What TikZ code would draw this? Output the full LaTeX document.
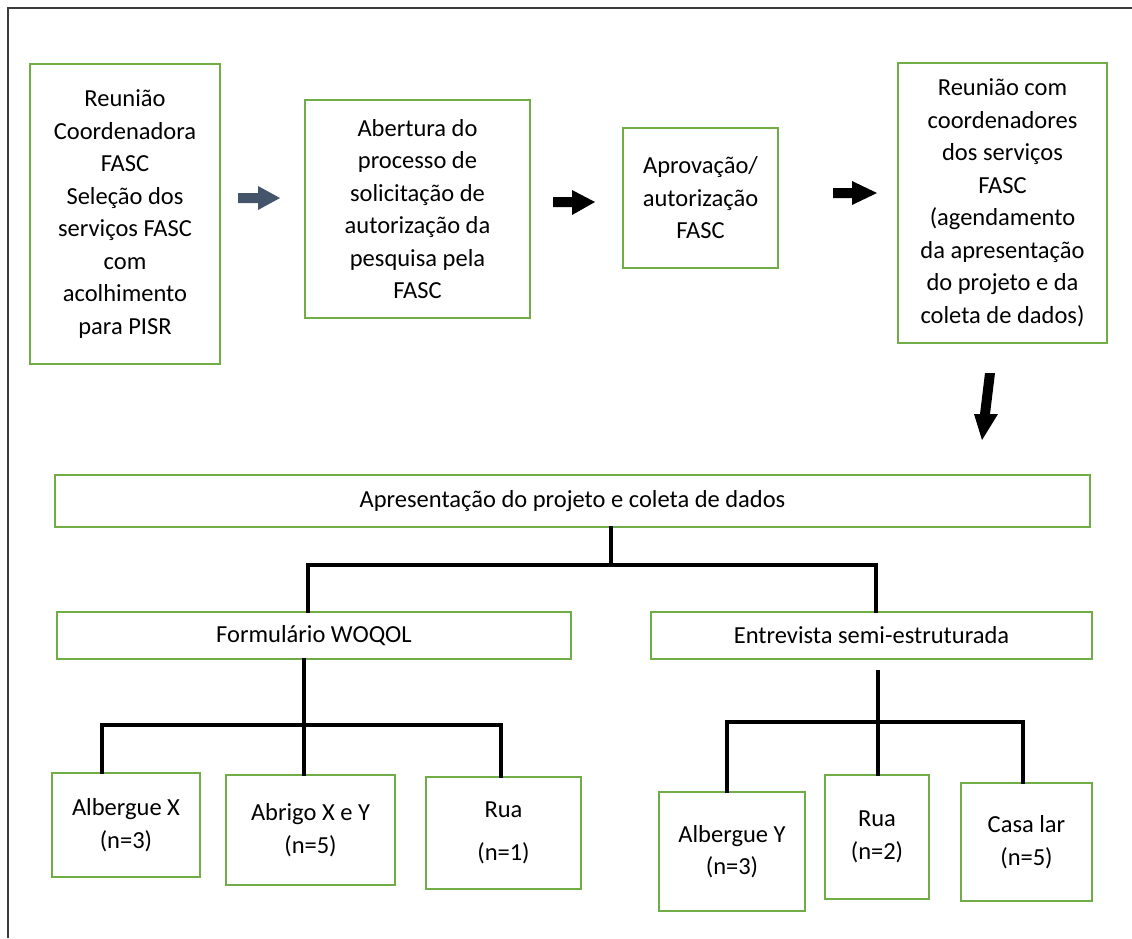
\documentclass[tikz,border=0pt]{standalone}
\usepackage{fontspec}
\setmainfont{Carlito}
\definecolor{boxgreen}{RGB}{112,173,71}
\definecolor{arrowslate}{RGB}{68,84,106}
\definecolor{framegray}{RGB}{60,60,60}
\begin{document}
\begin{tikzpicture}[x=1pt,y=-1pt,
  box/.style={draw=boxgreen, line width=2pt, align=center, inner sep=0pt,
    font=\fontsize{24.5}{32.5}\selectfont, text=black},
  conn/.style={draw=black, line width=3.5pt, line cap=rect, line join=miter},
  blockarrow/.style={fill=black, draw=none}]
\useasboundingbox (0,0) rectangle (1132,938);
% frame
\draw[framegray, line width=2.5pt] (8,938) -- (8,8) -- (1132,8);

% top row
\node[box, minimum width=190pt, minimum height=300pt] (b1) at (125,214)
  {Reunião\\Coordenadora\\FASC\\Seleção dos\\serviços FASC\\com\\acolhimento\\para PISR};
\node[box, minimum width=225pt, minimum height=218pt] (b2) at (417.5,209)
  {Abertura do\\processo de\\solicitação de\\autorização da\\pesquisa pela\\FASC};
\node[box, minimum width=155pt, minimum height=140pt] (b3) at (700.5,198)
  {Aprovação/\\autorização\\FASC};
\node[box, minimum width=209pt, minimum height=280pt] (b4) at (1002.5,203)
  {Reunião com\\coordenadores\\dos serviços\\FASC\\(agendamento\\da apresentação\\do projeto e da\\coleta de dados)};

% block arrows
\fill[arrowslate] (238,193) -- (258,193) -- (258,186) -- (280,198) -- (258,210) -- (258,203) -- (238,203) -- cycle;
\fill[black] (553,197) -- (572,197) -- (572,190) -- (595,202) -- (572,215) -- (572,207) -- (553,207) -- cycle;
\fill[black] (833,188) -- (852,188) -- (852,181) -- (877,193) -- (852,205) -- (852,198) -- (833,198) -- cycle;
\fill[black] (985,373) -- (995,373) -- (990,414) -- (998,414) -- (982,440) -- (974,414) -- (980,414) -- cycle;

% middle
\node[box, minimum width=1035pt, minimum height=52pt] (ap) at (572.5,501)
  {Apresentação do projeto e coleta de dados};
\node[box, minimum width=514pt, minimum height=47pt] (fo) at (314,635.5)
  {Formulário WOQOL};
\node[box, minimum width=441pt, minimum height=47pt] (en) at (871.5,635.5)
  {Entrevista semi-estruturada};

% bottom boxes
\node[box, minimum width=148pt, minimum height=104pt] (ax) at (126,825)
  {Albergue X\\(n=3)};
\node[box, minimum width=169pt, minimum height=110pt] (ab) at (310.5,830)
  {Abrigo X e Y\\(n=5)};
\node[box, minimum width=155pt, minimum height=112pt] (ru1) at (503.5,833)
  {Rua\\[11pt](n=1)};
\node[box, minimum width=146pt, minimum height=119pt] (ay) at (732,851.5)
  {Albergue Y\\(n=3)};
\node[box, minimum width=104pt, minimum height=124pt] (ru2) at (877,837)
  {Rua\\(n=2)};
\node[box, minimum width=131pt, minimum height=118pt] (cl) at (1026.5,842)
  {Casa lar\\(n=5)};

% tree connectors
\coordinate (j1) at (611,565);
\coordinate (h1L) at (308,565);
\coordinate (h1R) at (876,565);
\draw[conn] (ap.south -| j1) -- (j1);
\draw[conn] (fo.north -| h1L) -- (h1L) -- (h1R) -- (en.north -| h1R);

\coordinate (j2) at (304,725);
\coordinate (h2L) at (102,725);
\coordinate (h2R) at (501,725);
\draw[conn] (fo.south -| j2) -- (j2);
\draw[conn] (ax.north -| h2L) -- (h2L) -- (h2R) -- (ru1.north -| h2R);
\draw[conn] (j2) -- (ab.north -| j2);

\coordinate (s3) at (878,672);
\coordinate (j3) at (878,722);
\coordinate (h3L) at (727,722);
\coordinate (h3R) at (1023,722);
\draw[conn] (s3) -- (j3);
\draw[conn] (ay.north -| h3L) -- (h3L) -- (h3R) -- (cl.north -| h3R);
\draw[conn] (j3) -- (ru2.north -| j3);
\end{tikzpicture}
\end{document}
